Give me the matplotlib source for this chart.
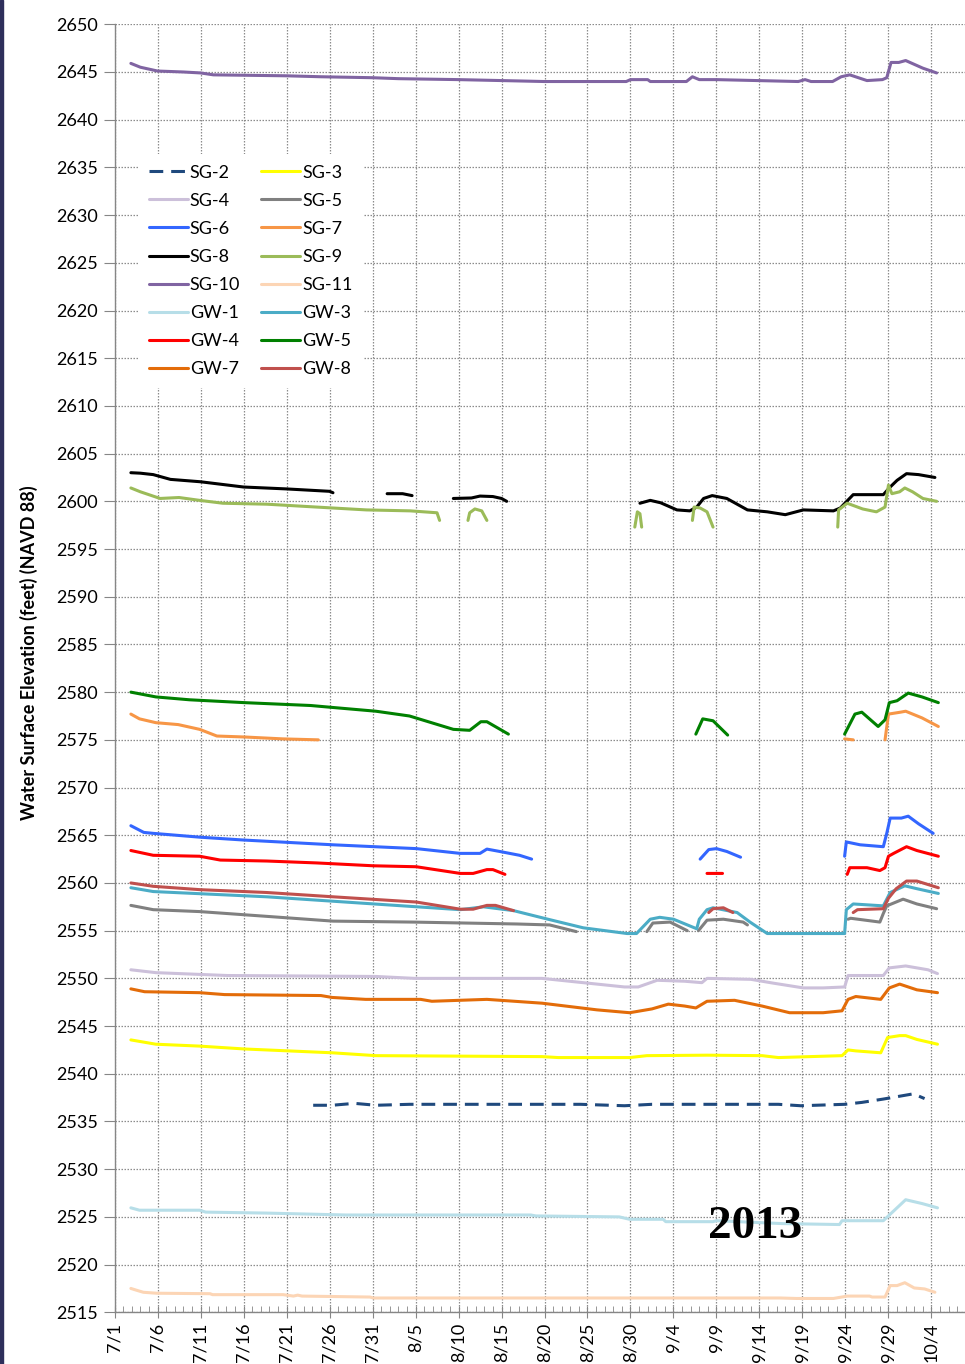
import numpy as np
import matplotlib
matplotlib.use("Agg")
import matplotlib.pyplot as plt
from matplotlib.patches import Rectangle

N = None  # segment break

# x = days after 7/1
sg2_d = [23.1, 25.3, 27.9, 30.4, 34.3, 54.2, 59.3, 62.5, 77.2, 79.8, 84.9, 86.9, 89.4, 92.9, 94.2]
sg2_v = [2536.7, 2536.7, 2536.9, 2536.7, 2536.8, 2536.8, 2536.65, 2536.8, 2536.8, 2536.65, 2536.8, 2537.0, 2537.35, 2537.9, 2537.4]

sg3_d = [1.9, 4.8, 9.9, 15.1, 25.3, 30.4, 49.7, 51.6, 59.9, 61.9, 68.9, 75.3, 77.2, 84.6, 85.3, 86.2, 89.1, 89.9, 91.3, 92.0, 93.3, 95.7]
sg3_v = [2543.55, 2543.1, 2542.9, 2542.6, 2542.2, 2541.9, 2541.8, 2541.7, 2541.7, 2541.9, 2541.95, 2541.9, 2541.7, 2541.9, 2542.5, 2542.4, 2542.2, 2543.8, 2544.0, 2544.0, 2543.6, 2543.1]

sg4_d = [1.9, 4.8, 13.1, 30.4, 34.9, 49.7, 52.9, 59.3, 60.9, 63.1, 66.3, 68.3, 68.9, 74.0, 76.6, 80.1, 82.4, 84.9, 85.3, 89.4, 90.1, 92.0, 94.6, 95.7]
sg4_v = [2550.9, 2550.6, 2550.3, 2550.2, 2550.0, 2550.0, 2549.7, 2549.1, 2549.1, 2549.8, 2549.7, 2549.55, 2550.0, 2549.9, 2549.5, 2549.0, 2549.0, 2549.1, 2550.3, 2550.3, 2551.1, 2551.3, 2550.9, 2550.5]

sg5_d = [1.9, 4.5, 9.9, 17.7, 25.4, 34.7, 46.8, 50.6, 53.7, N,
         61.9, 62.6, 64.6, 66.6, N,
         67.9, 68.9, 70.8, 73.1, 73.6, N,
         85.3, 85.6, 89.0, 89.4, 89.8, 91.7, 93.3, 95.6]
sg5_v = [2557.65, 2557.2, 2557.0, 2556.5, 2556.0, 2555.9, 2555.7, 2555.6, 2554.9, N,
         2554.9, 2555.8, 2555.9, 2555.0, N,
         2555.0, 2556.1, 2556.2, 2555.9, 2555.6, N,
         2556.2, 2556.3, 2555.9, 2556.8, 2557.6, 2558.3, 2557.8, 2557.3]

sg6_d = [1.9, 3.4, 4.5, 9.9, 15, 25.4, 35.1, 40.2, 42.5, 43.3, 44.8, 47.1, 48.5, N,
         68.1, 69.1, 70.0, 71.2, 72.8, N,
         84.9, 85.1, 86.7, 89.4, 89.8, 90.2, 91.5, 92.3, 93.5, 95.2]
sg6_v = [2566.0, 2565.3, 2565.2, 2564.8, 2564.5, 2564.0, 2563.6, 2563.1, 2563.1, 2563.55, 2563.3, 2562.9, 2562.5, N,
         2562.5, 2563.5, 2563.6, 2563.3, 2562.7, N,
         2562.8, 2564.3, 2564.0, 2563.8, 2565.2, 2566.8, 2566.8, 2567.0, 2566.2, 2565.2]

sg7_d = [1.9, 2.9, 4.8, 7.4, 9.9, 11.9, 15.1, 19.6, 23.7, N,
         84.9, 85.9, N,
         89.6, 90.0, 91.4, 92.0, 93.9, 95.8]
sg7_v = [2577.7, 2577.2, 2576.8, 2576.6, 2576.1, 2575.4, 2575.3, 2575.1, 2575.0, N,
         2575.1, 2575.0, N,
         2575.0, 2577.7, 2577.9, 2578.0, 2577.3, 2576.4]

sg8_d = [1.9, 3, 4.5, 6.5, 10, 15, 20, 25, 25.4, N,
         31.7, 33.5, 34.6, N,
         39.4, 41.5, 42.5, 44, 45, 45.6, N,
         61.1, 62.3, 63.5, 65.4, 66.9, 67.7, 68.5, 69.5, 71.2, 73.6, 75.9, 78, 80.1, 83.6, 84.4, 85.9, 87.5, 89.4, 90.2, 91, 92.1, 93.5, 95.4]
sg8_v = [2603.0, 2602.95, 2602.8, 2602.3, 2602.05, 2601.5, 2601.3, 2601.05, 2600.9, N,
         2600.8, 2600.8, 2600.6, N,
         2600.3, 2600.35, 2600.55, 2600.5, 2600.3, 2600.0, N,
         2599.8, 2600.1, 2599.85, 2599.1, 2599.0, 2599.4, 2600.3, 2600.6, 2600.3, 2599.1, 2598.9, 2598.6, 2599.1, 2599.0, 2599.3, 2600.7, 2600.7, 2600.7, 2601.5, 2602.2, 2602.9, 2602.8, 2602.5]

sg9_d = [1.9, 3, 5.3, 7.5, 9.9, 12.6, 17.7, 25.4, 29.3, 34.4, 37.5, 37.8, N,
         41.1, 41.3, 41.9, 42.7, 43.3, N,
         60.5, 60.8, 61.1, 61.3, N,
         67.2, 67.4, 68.1, 68.9, 69.6, N,
         84.1, 84.2, 85.2, 87, 88.6, 89.6, 90.0, 90.4, 91.3, 91.9, 92.8, 94, 95.6]
sg9_v = [2601.4, 2601.0, 2600.3, 2600.4, 2600.1, 2599.8, 2599.7, 2599.3, 2599.1, 2599.0, 2598.8, 2598.0, N,
         2598.0, 2598.8, 2599.2, 2599.0, 2598.0, N,
         2597.3, 2598.9, 2598.7, 2597.3, N,
         2598.0, 2599.4, 2599.3, 2598.9, 2597.3, N,
         2597.3, 2599.1, 2599.8, 2599.2, 2598.9, 2599.4, 2601.7, 2600.8, 2601.0, 2601.4, 2601.0, 2600.3, 2600.0]

sg10_d = [1.9, 3, 5, 8, 10, 11.5, 20, 24, 30, 33, 40, 50, 59.5, 60, 62, 62.3, 66.5, 67.2, 68, 70, 79.5, 80.3, 81,
          83.5, 84.5, 85.5, 86.5, 87.5, 89.3, 89.8, 90.3, 91.2, 92, 93, 94, 95.6]
sg10_v = [2645.9, 2645.5, 2645.1, 2645.0, 2644.9, 2644.7, 2644.6, 2644.5, 2644.4, 2644.3, 2644.2, 2644.0, 2644.0, 2644.2, 2644.2, 2644.0, 2644.0, 2644.5, 2644.2, 2644.2, 2644.0, 2644.2, 2644.0,
          2644.0, 2644.5, 2644.7, 2644.4, 2644.1, 2644.2, 2644.4, 2646.0, 2646.0, 2646.2, 2645.8, 2645.4, 2644.9]

sg11_d = [1.9, 2.6, 3.35, 4.9, 11.1, 11.4, 19.6, 20.8, 21.3, 21.8, 29.7, 30.1, 77.4, 79.3, 83.6, 85.2, 87.8, 88.1, 89.6, 90.2, 91.0, 91.9, 93.0, 94.2, 95.4]
sg11_v = [2517.5, 2517.3, 2517.1, 2517.0, 2516.95, 2516.85, 2516.85, 2516.7, 2516.8, 2516.7, 2516.6, 2516.5, 2516.5, 2516.45, 2516.45, 2516.7, 2516.7, 2516.6, 2516.6, 2517.8, 2517.8, 2518.1, 2517.55, 2517.45, 2517.1]

gw1_d = [1.9, 2.9, 9.9, 10.6, 17.6, 26.9, 48.4, 49.0, 58.7, 59.9, 63.8, 64.1, 69.6, 70.0, 77.6, 84.3, 84.6, 89.4, 90.7, 92.0, 93.9, 95.7]
gw1_v = [2525.95, 2525.7, 2525.7, 2525.5, 2525.4, 2525.2, 2525.2, 2525.1, 2525.0, 2524.75, 2524.75, 2524.5, 2524.5, 2524.6, 2524.3, 2524.2, 2524.6, 2524.6, 2525.7, 2526.8, 2526.4, 2525.95]

gw3_d = [1.9, 4.5, 17.7, 28.5, 40.2, 42.9, 46.4, 50.4, 54.5, 59.6, 60.7, 62.3, 63.4, 65.0, 67.7, 68.0, 68.9, 69.6, 72.4, 73.9, 75.9, 84.9, 85.1, 85.9, 89.4, 90.2, 91.9, 93.3, 95.8]
gw3_v = [2559.5, 2559.1, 2558.55, 2557.9, 2557.2, 2557.5, 2557.1, 2556.2, 2555.3, 2554.7, 2554.7, 2556.2, 2556.4, 2556.2, 2555.2, 2556.2, 2557.2, 2557.4, 2556.9, 2555.9, 2554.7, 2554.7, 2557.2, 2557.8, 2557.6, 2559.0, 2559.7, 2559.4, 2558.9]

gw4_d = [1.9, 4.5, 9.9, 12.3, 17.7, 23.5, 30.1, 35.1, 40.2, 41.7, 43.3, 44.0, 45.4, N,
         68.9, 70.7, N,
         85.2, 85.5, 87.5, 89.0, 89.6, 90.0, 90.6, 92.1, 93.3, 95.8]
gw4_v = [2563.4, 2562.9, 2562.8, 2562.4, 2562.3, 2562.1, 2561.8, 2561.7, 2561.0, 2561.0, 2561.4, 2561.4, 2560.9, N,
         2561.0, 2561.0, N,
         2560.9, 2561.6, 2561.6, 2561.3, 2561.6, 2562.8, 2563.1, 2563.8, 2563.4, 2562.8]

gw5_d = [1.9, 4.8, 8.7, 15.1, 22.8, 25.3, 30.4, 34.3, 39.4, 41.3, 42.6, 43.3, 45.8, N,
         67.6, 68.4, 69.6, 71.3, N,
         84.9, 86.1, 86.9, 88.8, 89.6, 90.1, 91.0, 92.3, 93.9, 95.8]
gw5_v = [2580.0, 2579.5, 2579.2, 2578.9, 2578.6, 2578.4, 2578.0, 2577.5, 2576.1, 2576.0, 2576.9, 2576.9, 2575.6, N,
         2575.6, 2577.2, 2577.0, 2575.5, N,
         2575.6, 2577.7, 2577.9, 2576.4, 2577.1, 2578.9, 2579.1, 2579.9, 2579.5, 2578.9]

gw7_d = [1.9, 3.5, 9.9, 12.8, 24, 25.3, 29.2, 35.6, 36.9, 43.3, 49.7, 56.1, 59.9, 62.5, 64.4, 66.3, 67.6, 68.9, 72.1, 75.3, 78.5, 82.4, 84.6, 85.3, 86.2, 89.1, 90.1, 91.3, 93.3, 95.7]
gw7_v = [2548.9, 2548.6, 2548.5, 2548.3, 2548.2, 2548.0, 2547.8, 2547.8, 2547.6, 2547.8, 2547.4, 2546.7, 2546.4, 2546.8, 2547.3, 2547.1, 2546.9, 2547.6, 2547.7, 2547.1, 2546.4, 2546.4, 2546.6, 2547.8, 2548.1, 2547.8, 2549.0, 2549.4, 2548.8, 2548.5]

gw8_d = [1.9, 4.5, 9.9, 17.7, 25.4, 35.1, 40.2, 41.7, 43.3, 44.3, 46.4, N,
         69.1, 69.6, 70.8, 71.9, N,
         85.9, 86.4, 89.4, 90.0, 90.9, 92.1, 93.3, 95.8]
gw8_v = [2560.0, 2559.65, 2559.3, 2559.0, 2558.55, 2558.0, 2557.25, 2557.25, 2557.65, 2557.65, 2557.1, N,
         2556.9, 2557.3, 2557.4, 2556.9, N,
         2556.9, 2557.2, 2557.3, 2558.4, 2559.4, 2560.2, 2560.2, 2559.5]

names = ["SG-2", "SG-3", "SG-4", "SG-5", "SG-6", "SG-7", "SG-8", "SG-9", "SG-10", "SG-11",
         "GW-1", "GW-3", "GW-4", "GW-5", "GW-7", "GW-8"]
colors = ["#1F497D", "#FFFF00", "#CCC0DA", "#808080", "#3366FF", "#F79646", "#000000", "#9BBB59",
          "#8064A2", "#FCD5B5", "#B7DEE8", "#4BACC6", "#FF0000", "#008000", "#E36C09", "#C0504D"]
series = [(sg2_d, sg2_v), (sg3_d, sg3_v), (sg4_d, sg4_v), (sg5_d, sg5_v), (sg6_d, sg6_v),
          (sg7_d, sg7_v), (sg8_d, sg8_v), (sg9_d, sg9_v), (sg10_d, sg10_v), (sg11_d, sg11_v),
          (gw1_d, gw1_v), (gw3_d, gw3_v), (gw4_d, gw4_v), (gw5_d, gw5_v), (gw7_d, gw7_v), (gw8_d, gw8_v)]

tick_days = list(range(0, 100, 5))
tick_labels = ["7/1", "7/6", "7/11", "7/16", "7/21", "7/26", "7/31", "8/5", "8/10", "8/15",
               "8/20", "8/25", "8/30", "9/4", "9/9", "9/14", "9/19", "9/24", "9/29", "10/4"]

def arr(a):
    return np.array([np.nan if x is None else x for x in a], dtype=float)

fig = plt.figure(figsize=(9.65, 13.64), dpi=100)
ax = fig.add_axes([0.1187, 0.0379, 0.8813, 0.9443])
font = ["Lato", "DejaVu Sans"]

handles = {}
for name, col, (d, v) in zip(names, colors, series):
    kw = dict(color=col, lw=2.2, solid_capstyle="round", solid_joinstyle="round")
    if name == "SG-2":
        kw.update(dashes=(4.5, 2.6), dash_capstyle="butt")
    ln, = ax.plot(arr(d), arr(v), label=name, **kw)
    handles[name] = ln

ax.set_xlim(0, 98.9)
ax.set_ylim(2515, 2650)
ax.set_yticks(np.arange(2515, 2651, 5))
ax.set_xticks(tick_days)
ax.set_xticklabels(tick_labels, rotation=90, fontsize=13, family=font)
ax.set_xticks(np.arange(0, 99, 1), minor=True)
for lab in ax.get_yticklabels():
    lab.set_fontsize(13)
    lab.set_family(font)

ax.grid(True, which="major", color="#8C8C8C", lw=0.9, linestyle=(0, (1.2, 1.2)))
ax.set_axisbelow(True)
for s in ["top", "right"]:
    ax.spines[s].set_visible(False)
for s in ["left", "bottom"]:
    ax.spines[s].set_color("#868686")
    ax.spines[s].set_linewidth(1.0)
ax.tick_params(axis="x", which="major", direction="inout", length=9, color="#868686", pad=3)
ax.tick_params(axis="x", which="minor", direction="in", length=4, color="#868686")
ax.tick_params(axis="y", which="major", direction="out", length=8, color="#868686", pad=4)

ax.set_ylabel("Water Surface Elevation (feet) (NAVD 88)", fontsize=13, fontweight="bold",
              family=font, labelpad=12)
ax.yaxis.set_label_coords(-0.0905, 0.512)

order = ["SG-2", "SG-4", "SG-6", "SG-8", "SG-10", "GW-1", "GW-4", "GW-7",
         "SG-3", "SG-5", "SG-7", "SG-9", "SG-11", "GW-3", "GW-5", "GW-8"]
leg = ax.legend([handles[n] for n in order], order, ncol=2, loc="upper left",
                bbox_to_anchor=(0.0175, 0.9065), frameon=True, fancybox=False,
                edgecolor="none", facecolor="white", framealpha=1.0,
                prop={"family": font, "size": 13}, handlelength=2.15, handletextpad=0.1,
                columnspacing=1.17, labelspacing=0.67, borderpad=0.6)

fig.text(0.782, 0.1005, "2013", fontsize=34, fontweight="bold", family="Liberation Serif",
         ha="center", va="center")

fig.patches.append(Rectangle((0, 0), 0.0035, 1, transform=fig.transFigure,
                             color="#2E2F5B", zorder=10))

fig.savefig("out.png", dpi=100)
